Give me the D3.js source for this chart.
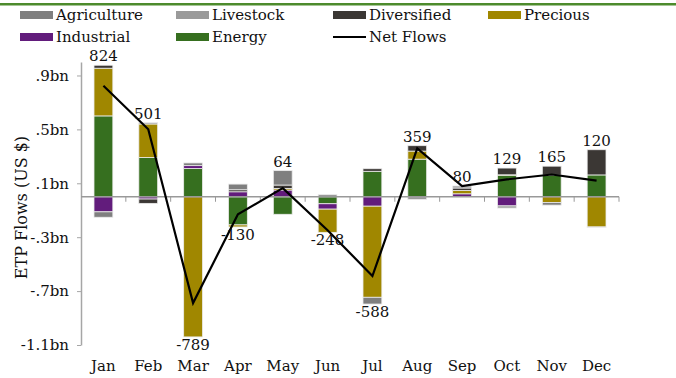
<!DOCTYPE html>
<html>
<head>
<meta charset="utf-8">
<script src="https://cdn.jsdelivr.net/npm/d3@7"></script>
<style>
  body { margin: 0; background: #fff; }
  text { font-family: "DejaVu Serif", Georgia, serif; fill: #111; }
</style>
</head>
<body>
<div class="vis-etp"></div>
<script>
// values in US$ millions
const months = ["Jan", "Feb", "Mar", "Apr", "May", "Jun", "Jul", "Aug", "Sep", "Oct", "Nov", "Dec"];
const energy      = [600, 291, 209, -209, -130, -52, 189, 279, 0, 160, 160, 162];
const industrial  = [-112, -17, 22, 37, 50, -40, -70, 0, 22, -68, 0, 0];
const precious    = [354, 249, -1040, -15, 12, -172, -676, 60, 25, 3, -42, -224];
const diversified = [22, -32, 0, 15, 25, 0, 19, 40, 18, 50, 67, 187];
const livestock   = [0, 10, 0, 0, 0, 16, 0, -20, 15, -16, 0, 0];
const agriculture = [-40, 0, 20, 42, 107, 0, -50, 0, 0, 0, -20, -5];
const netFlows    = [824, 501, -789, -130, 64, -248, -588, 359, 80, 129, 165, 120];
const yTicks      = [-1100, -700, -300, 100, 500, 900];

const sectors = ["Energy", "Industrial", "Precious", "Diversified", "Livestock", "Agriculture"];
const colors = {
    Agriculture: "#7f7f7f",
    Livestock: "#9a9a9a",
    Diversified: "#3b3734",
    Precious: "#a08700",
    Industrial: "#621c7c",
    Energy: "#366f1f"
};

const rows = months.map((m, i) => ({
    month: m,
    Energy: energy[i],
    Industrial: industrial[i],
    Precious: precious[i],
    Diversified: diversified[i],
    Livestock: livestock[i],
    Agriculture: agriculture[i],
    net: netFlows[i]
}));

const width = 676, height = 378;
const plotLeft = 81, plotRight = 619, plotTop = 62, plotBottom = 345;

const svg = d3.select(".vis-etp").append("svg")
    .attr("width", width)
    .attr("height", height);

const x = d3.scaleBand().domain(months).range([plotLeft, plotRight]).padding(0);
const y = d3.scaleLinear().domain([-1100, 1000]).range([plotBottom, plotTop]);
const barW = x.bandwidth() * 0.42;

// green rule at the top
svg.append("rect")
    .attr("x", 0).attr("y", 3)
    .attr("width", width).attr("height", 2.5)
    .attr("fill", "#4d8b2c");

// legend
const legendItems = [
    { name: "Agriculture", col: 0, row: 0 },
    { name: "Livestock", col: 1, row: 0 },
    { name: "Diversified", col: 2, row: 0 },
    { name: "Precious", col: 3, row: 0 },
    { name: "Industrial", col: 0, row: 1 },
    { name: "Energy", col: 1, row: 1 },
    { name: "Net Flows", col: 2, row: 1, line: true }
];
const colX = [20, 176, 333, 488];
const legend = svg.append("g").selectAll("g")
    .data(legendItems)
    .join("g")
    .attr("transform", d => `translate(${colX[d.col]},${15 + d.row * 22})`);

legend.filter(d => !d.line).append("rect")
    .attr("x", 0).attr("y", -4)
    .attr("width", 33).attr("height", 8)
    .attr("fill", d => colors[d.name]);

legend.filter(d => d.line).append("line")
    .attr("x1", 0).attr("x2", 33)
    .attr("stroke", "#000").attr("stroke-width", 2);

legend.append("text")
    .attr("x", 36)
    .attr("dy", "0.35em")
    .attr("font-size", 15)
    .text(d => d.name);

// y axis: ".9bn", "-.3bn", "-1.1bn"
const fmt = v => {
    const s = (Math.abs(v) / 1000).toFixed(1).replace(/^0\./, ".");
    return (v < 0 ? "-" : "") + s + "bn";
};
const yAxis = svg.append("g")
    .attr("transform", `translate(${plotLeft},0)`)
    .call(d3.axisLeft(y).tickValues(yTicks).tickFormat(fmt).tickSize(4).tickSizeOuter(0).tickPadding(8));
yAxis.select(".domain").attr("stroke", "#a6a6a6").attr("stroke-width", 1.5);
yAxis.selectAll(".tick line").attr("stroke", "#a6a6a6");
yAxis.selectAll(".tick text")
    .attr("font-family", "DejaVu Serif, serif")
    .attr("font-size", 15)
    .attr("fill", "#111");

svg.append("text")
    .attr("transform", `translate(27,${(plotTop + plotBottom) / 2 + 4}) rotate(-90)`)
    .attr("text-anchor", "middle")
    .attr("font-size", 16)
    .text("ETP Flows (US $)");

// stacked bars
const stack = d3.stack().keys(sectors).offset(d3.stackOffsetDiverging);
const series = stack(rows);

svg.append("g").selectAll("g")
    .data(series)
    .join("g")
    .attr("fill", d => colors[d.key])
    .selectAll("rect")
    .data(d => d.filter(p => p[1] !== p[0]))
    .join("rect")
    .attr("x", d => x(d.data.month) + (x.bandwidth() - barW) / 2)
    .attr("y", d => y(Math.max(d[0], d[1])))
    .attr("width", barW)
    .attr("height", d => Math.abs(y(d[0]) - y(d[1])))
    .attr("stroke", "#ececec")
    .attr("stroke-width", 0.8);

// zero line with category ticks
const y0 = y(0);
svg.append("line")
    .attr("x1", plotLeft).attr("x2", plotRight)
    .attr("y1", y0).attr("y2", y0)
    .attr("stroke", "#999").attr("stroke-width", 1.5);
svg.append("g").selectAll("line")
    .data(months)
    .join("line")
    .attr("x1", d => x(d) + x.bandwidth())
    .attr("x2", d => x(d) + x.bandwidth())
    .attr("y1", y0).attr("y2", y0 + 5)
    .attr("stroke", "#999");

// net flows line
const line = d3.line()
    .x(d => x(d.month) + x.bandwidth() / 2)
    .y(d => y(d.net));
svg.append("path")
    .datum(rows)
    .attr("d", line)
    .attr("fill", "none")
    .attr("stroke", "#000")
    .attr("stroke-width", 2.2);

// value labels
const posTop = rows.map(r => d3.sum(sectors, k => Math.max(0, r[k])));
const negBot = rows.map(r => d3.sum(sectors, k => Math.min(0, r[k])));
svg.append("g").selectAll("text")
    .data(rows)
    .join("text")
    .attr("x", d => x(d.month) + x.bandwidth() / 2)
    .attr("y", (d, i) => d.net >= 0 ? y(posTop[i]) - 4 : y(negBot[i]) + 13)
    .attr("text-anchor", "middle")
    .attr("font-size", 15)
    .text(d => d.net);

// month labels
svg.append("g").selectAll("text")
    .data(months)
    .join("text")
    .attr("x", d => x(d) + x.bandwidth() / 2)
    .attr("y", 371)
    .attr("text-anchor", "middle")
    .attr("font-size", 15)
    .text(d => d);
</script>
</body>
</html>
